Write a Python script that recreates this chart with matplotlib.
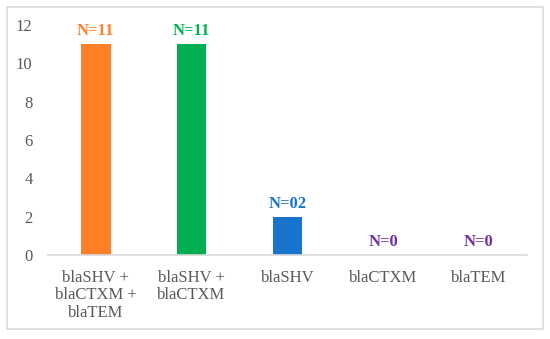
import numpy as np
import matplotlib.pyplot as plt
from matplotlib.patches import Rectangle

categories = ['blaSHV +\nblaCTXM +\nblaTEM', 'blaSHV +\nblaCTXM', 'blaSHV', 'blaCTXM', 'blaTEM']
counts = [11, 11, 2, 0, 0]
labels = ['N=11', 'N=11', 'N=02', 'N=0', 'N=0']
colors = ['#FF7F27', '#00B050', '#1874CD', '#7030A0', '#7030A0']
yticks = [0, 2, 4, 6, 8, 10, 12]

plt.rcParams['font.family'] = ['Liberation Serif', 'DejaVu Serif']

fig = plt.figure(figsize=(5.5, 3.39), dpi=100)
ax = fig.add_axes([0.087, 0.248, 0.871, 0.678])

x = np.arange(len(categories))
ax.bar(x, counts, width=0.31, color=colors)

for xi, c, lab, col in zip(x, counts, labels, colors):
    ax.text(xi, c + 0.25, lab, ha='center', va='bottom', color=col,
            fontsize=12, fontweight='bold')

ax.set_xlim(-0.5, len(categories) - 0.5)
ax.set_ylim(0, 12)
ax.set_yticks(yticks)
ax.set_xticks(x)
ax.set_xticklabels(categories, fontsize=12, color='#595959', linespacing=1.1)
ax.tick_params(axis='y', labelsize=12, labelcolor='#595959', length=0, pad=11)
ax.tick_params(axis='x', length=0, pad=11)

for side in ['top', 'right', 'left']:
    ax.spines[side].set_visible(False)
ax.spines['bottom'].set_color('#D9D9D9')
ax.spines['bottom'].set_linewidth(1.2)

# light frame around the whole chart
fig.patches.append(Rectangle((7 / 550, 1 - 329 / 339), 536 / 550, 322 / 339,
                             transform=fig.transFigure, fill=False,
                             edgecolor='#D9D9D9', linewidth=1.2))

fig.savefig('out.png', dpi=100)
